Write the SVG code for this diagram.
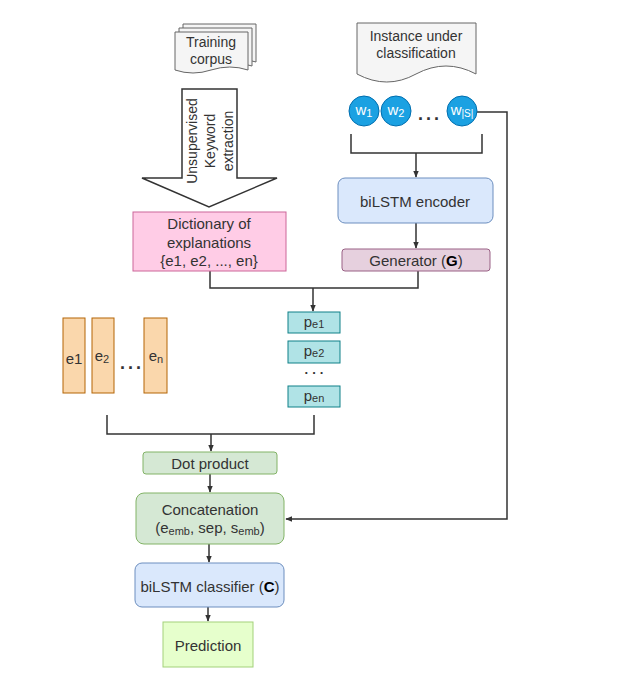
<svg xmlns="http://www.w3.org/2000/svg" width="621" height="680" viewBox="0 0 621 680">
<defs>
<marker id="arr" viewBox="0 0 10 10" refX="9" refY="5" markerWidth="7" markerHeight="7" markerUnits="userSpaceOnUse" orient="auto">
<path d="M0,1 L10,5 L0,9 Z" fill="#333"/>
</marker>
<style>
text{font-family:"Liberation Sans",Arial,sans-serif;fill:#333;text-anchor:middle;dominant-baseline:central}
.t15{font-size:15px}
.t14{font-size:14px}
.dots{font-size:18px;font-weight:bold;letter-spacing:3px}
.dots-s{font-size:13px;font-weight:bold;letter-spacing:4px}
.doc{fill:#f5f5f5;stroke:#666;stroke-width:1}
.con{fill:none;stroke:#333;stroke-width:1.5}
.blue{fill:#dae8fc;stroke:#6c8ebf;stroke-width:1}
.green{fill:#d5e8d4;stroke:#82b366;stroke-width:1}
.orange{fill:#fad7ac;stroke:#b46504;stroke-width:1}
.teal{fill:#b0e3e6;stroke:#0e8088;stroke-width:1}
.circ{fill:#1ba1e2;stroke:#006eaf;stroke-width:1}
.wt{fill:#fff;font-size:15px}
</style>
</defs>
<rect width="621" height="680" fill="#fff"/>

<g id="connectors">
<path class="con" d="M351,134 V153 H482 V134"/>
<path class="con" d="M416,153 V177" marker-end="url(#arr)"/>
<path class="con" d="M416,223 V248" marker-end="url(#arr)"/>
<path class="con" d="M210,271 V288 H418 V271"/>
<path class="con" d="M313,288 V311" marker-end="url(#arr)"/>
<path class="con" d="M107,415 V434 H314 V415"/>
<path class="con" d="M211,434 V451" marker-end="url(#arr)"/>
<path class="con" d="M210,474 V492" marker-end="url(#arr)"/>
<path class="con" d="M209,544 V562" marker-end="url(#arr)"/>
<path class="con" d="M208,607 V621" marker-end="url(#arr)"/>
<path class="con" d="M477,112 H507 V519 H286" marker-end="url(#arr)"/>
</g>

<g id="training-corpus">
<path class="doc" d="M183,24 H256 V62 Q238,56 219,62 Q201,68 183,62 Z"/>
<path class="doc" d="M179,28 H252 V66 Q234,60 215,66 Q197,72 179,66 Z"/>
<path class="doc" d="M175,32 H248 V70 Q230,64 211,70 Q193,76 175,70 Z"/>
<text class="t14" x="211" y="42">Training</text>
<text class="t14" x="211" y="59">corpus</text>
</g>

<g id="keyword-extraction">
<path d="M182,89 H237 V178 H277 L209,207 L142,178 H182 Z" fill="#fff" stroke="#333" stroke-width="1.5"/>
<g transform="translate(210,141) rotate(-90)">
<text class="t14" x="0" y="-18">Unsupervised</text>
<text class="t14" x="0" y="0">Keyword</text>
<text class="t14" x="0" y="18">extraction</text>
</g>
</g>

<g id="instance">
<path class="doc" d="M357,23 H476 V74 Q446,58 416,74 Q387,90 357,74 Z"/>
<text class="t14" x="416" y="36">Instance under</text>
<text class="t14" x="416" y="53">classification</text>
</g>

<g id="w1">
<circle class="circ" cx="364" cy="111" r="15"/>
<text class="wt" x="364" y="109">w<tspan font-size="11" dy="4">1</tspan></text>
</g>
<g id="w2">
<circle class="circ" cx="396" cy="111" r="15"/>
<text class="wt" x="396" y="109">w<tspan font-size="11" dy="4">2</tspan></text>
</g>
<g id="wdots">
<text class="dots" x="430" y="114">...</text>
</g>
<g id="wS">
<circle class="circ" cx="462" cy="111" r="15"/>
<text class="wt" x="462" y="109">w<tspan font-size="10" dy="4">|S|</tspan></text>
</g>

<g id="encoder">
<rect class="blue" x="338" y="178" width="155" height="45" rx="7"/>
<text class="t15" x="415" y="201">biLSTM encoder</text>
</g>

<g id="generator">
<rect x="342" y="249" width="148" height="22" rx="3" fill="#e6d0de" stroke="#996185" stroke-width="1"/>
<text class="t15" x="416" y="260">Generator (<tspan font-weight="bold" fill="#000">G</tspan>)</text>
</g>

<g id="dictionary">
<rect x="133" y="212" width="153" height="59" fill="#ffcce6" stroke="#cc6699" stroke-width="1"/>
<text class="t15" x="209" y="223">Dictionary of</text>
<text class="t15" x="209" y="242">explanations</text>
<text class="t15" x="209" y="260">{e1, e2, ..., en}</text>
</g>

<g id="e1">
<rect class="orange" x="63" y="318" width="22" height="75"/>
<text class="t15" x="74" y="358">e1</text>
</g>
<g id="e2">
<rect class="orange" x="92" y="318" width="22" height="75"/>
<text class="t15" x="102" y="355">e<tspan font-size="11" dy="4">2</tspan></text>
</g>
<g id="edots">
<text class="dots" x="132" y="363">...</text>
</g>
<g id="en">
<rect class="orange" x="144" y="318" width="23" height="75"/>
<text class="t15" x="156" y="355">e<tspan font-size="11" dy="4">n</tspan></text>
</g>

<g id="pe1">
<rect class="teal" x="288" y="312" width="52" height="21"/>
<text class="t15" x="314" y="321">p<tspan font-size="11" dy="3">e1</tspan></text>
</g>
<g id="pe2">
<rect class="teal" x="288" y="341" width="52" height="22"/>
<text class="t15" x="314" y="350">p<tspan font-size="11" dy="3">e2</tspan></text>
</g>
<g id="pdots">
<text class="dots-s" x="316" y="369">...</text>
</g>
<g id="pen">
<rect class="teal" x="288" y="386" width="52" height="21"/>
<text class="t15" x="314" y="395">p<tspan font-size="11" dy="3">en</tspan></text>
</g>

<g id="dot-product">
<rect class="green" x="143" y="452" width="134" height="22" rx="3"/>
<text class="t15" x="210" y="463">Dot product</text>
</g>

<g id="concatenation">
<rect class="green" x="136" y="493" width="148" height="51" rx="8"/>
<text class="t15" x="210" y="509">Concatenation</text>
<text class="t15" x="210" y="527">(e<tspan font-size="11" dy="4">emb</tspan><tspan dy="-4">, sep, s</tspan><tspan font-size="11" dy="4">emb</tspan><tspan dy="-4">)</tspan></text>
</g>

<g id="classifier">
<rect class="blue" x="135" y="563" width="149" height="44" rx="7"/>
<text class="t15" x="210" y="586">biLSTM classifier (<tspan font-weight="bold" fill="#000">C</tspan>)</text>
</g>

<g id="prediction">
<rect x="163" y="622" width="90" height="45" fill="#e6ffcc" stroke="#a3d17a" stroke-width="1"/>
<text class="t15" x="208" y="645">Prediction</text>
</g>
</svg>
